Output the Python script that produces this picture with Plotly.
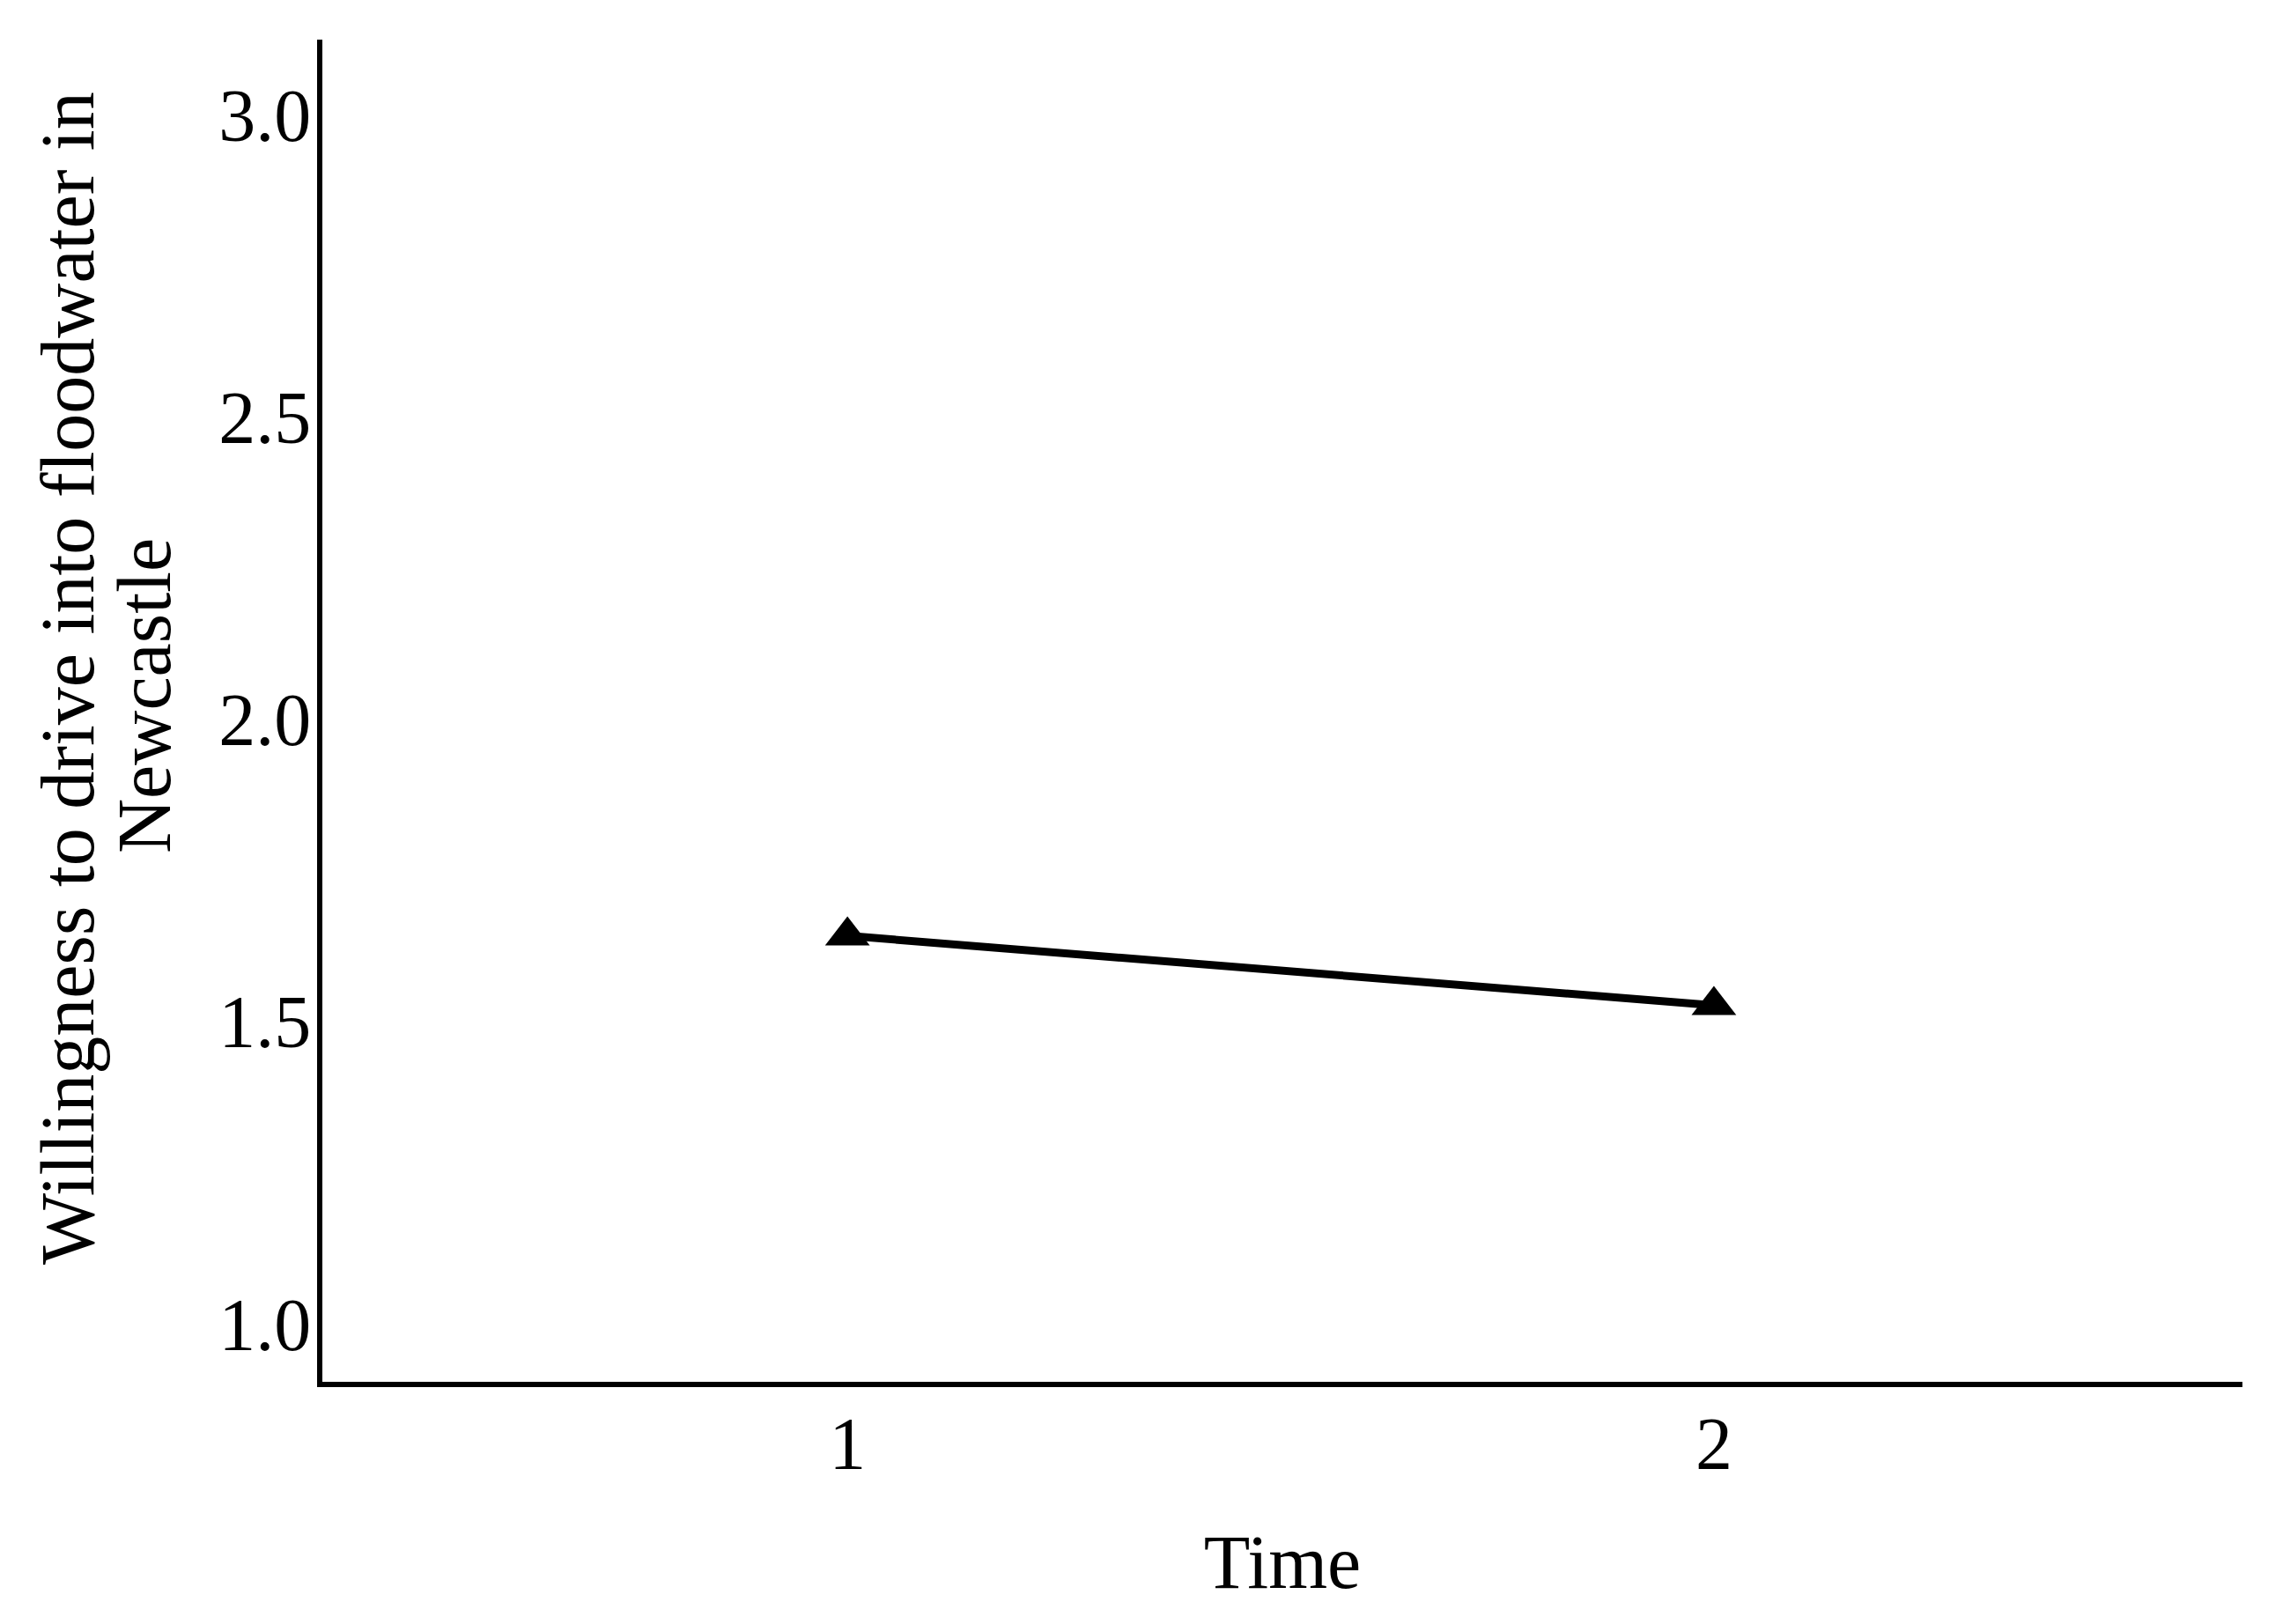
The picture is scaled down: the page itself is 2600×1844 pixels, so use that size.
import plotly.graph_objects as go

# data
time_points = [1, 2]
willingness = [1.642, 1.527]
y_ticks = [1.0, 1.5, 2.0, 2.5, 3.0]
x_ticks = [1, 2]
y_title_lines = ["Willingness to drive into floodwater in", "Newcastle"]

font_serif = "Liberation Serif, Times New Roman, serif"

# the page body adds an 8px margin round the figure
BODY = 8
ML, MR, MT, MB = 358, 62, 37, 283

fig = go.Figure()

fig.add_trace(go.Scatter(
    x=time_points,
    y=willingness,
    mode="lines+markers",
    line=dict(color="black", width=9),
    marker=dict(symbol="triangle-up", size=44, color="black"),
    showlegend=False,
))

fig.update_layout(
    width=2600,
    height=1844,
    template="simple_white",
    paper_bgcolor="white",
    plot_bgcolor="white",
    margin=dict(l=ML, r=MR, t=MT, b=MB),
    font=dict(family=font_serif, size=84, color="black"),
)

fig.update_xaxes(
    range=[0.394, 2.610],
    tickvals=x_ticks,
    ticktext=[str(v) for v in x_ticks],
    ticks="",
    ticklabelstandoff=-8,
    showline=True,
    linecolor="black",
    linewidth=6,
    showgrid=False,
    zeroline=False,
    tickfont=dict(size=84, family=font_serif, color="black"),
    title=dict(text="Time", font=dict(size=86, family=font_serif), standoff=60),
)

fig.update_yaxes(
    range=[0.904, 3.125],
    tickvals=y_ticks,
    ticktext=["%.1f" % v for v in y_ticks],
    ticks="",
    ticklabelstandoff=-10,
    showline=True,
    linecolor="black",
    linewidth=6,
    showgrid=False,
    zeroline=False,
    tickfont=dict(size=84, family=font_serif, color="black"),
)

# two-line y title, placed as rotated annotations (tighter line spacing than <br>)
plot_w = 2600 - ML - MR
plot_h = 1844 - MT - MB
for line, x_page, y_page in zip(y_title_lines, [77, 164], [770, 790]):
    fig.add_annotation(
        text=line,
        xref="paper", yref="paper",
        x=(x_page - BODY - ML) / plot_w,
        y=1 - (y_page - BODY - MT) / plot_h,
        xanchor="center", yanchor="middle",
        textangle=-90,
        showarrow=False,
        font=dict(size=86, family=font_serif, color="black"),
    )

fig.write_html("out.html")
